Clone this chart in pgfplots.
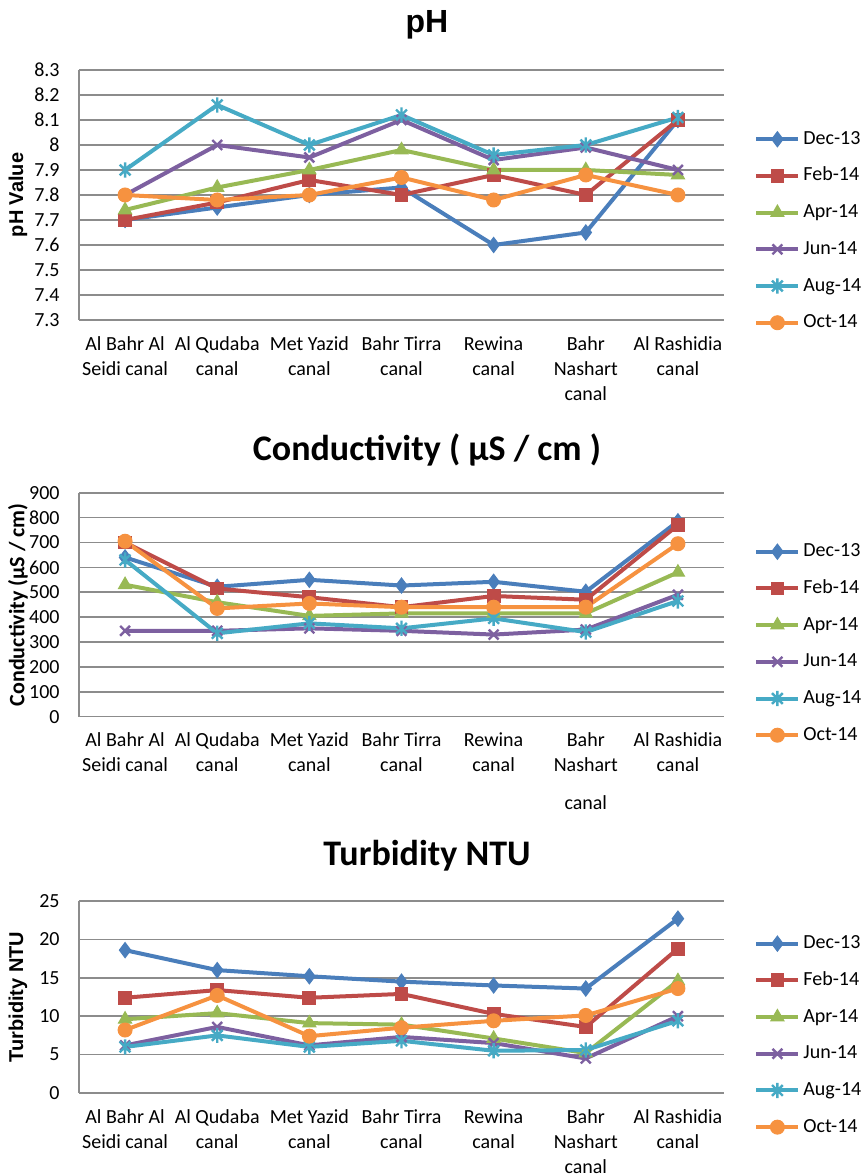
\documentclass[border=0pt]{standalone}
\usepackage{fontspec}
\setmainfont{Carlito}
\newfontfamily\arialfont{Liberation Sans}
\usepackage{pgfplots}
\pgfplotsset{compat=1.18}

\definecolor{cDec}{HTML}{4A7EBB}
\definecolor{cFeb}{HTML}{BE4B48}
\definecolor{cApr}{HTML}{98B954}
\definecolor{cJun}{HTML}{7D60A0}
\definecolor{cAug}{HTML}{46AAC5}
\definecolor{cOct}{HTML}{F69240}
\definecolor{gridc}{HTML}{8C8C8C}

\pgfdeclareplotmark{xstar}{%
  \pgfpathmoveto{\pgfqpoint{0pt}{\pgfplotmarksize}}%
  \pgfpathlineto{\pgfqpoint{0pt}{-\pgfplotmarksize}}%
  \pgfpathmoveto{\pgfqpoint{.7071\pgfplotmarksize}{.7071\pgfplotmarksize}}%
  \pgfpathlineto{\pgfqpoint{-.7071\pgfplotmarksize}{-.7071\pgfplotmarksize}}%
  \pgfpathmoveto{\pgfqpoint{-.7071\pgfplotmarksize}{.7071\pgfplotmarksize}}%
  \pgfpathlineto{\pgfqpoint{.7071\pgfplotmarksize}{-.7071\pgfplotmarksize}}%
  \pgfusepathqstroke}

\pgfplotsset{
  canal/.style={
    scale only axis, width=322.5pt,
    xmin=0.5, xmax=7.5, xtick={1,2,3,4,5,6,7},
    axis x line*=bottom, axis y line*=left,
    axis line style={draw=gridc, line width=0.8pt, -},
    ymajorgrids, grid style={draw=gridc, line width=0.8pt},
    major tick length=0pt,
    tick label style={font=\fontsize{10}{12.5}\selectfont},
    xticklabel style={align=center, anchor=north, inner ysep=0pt, yshift=-8pt},
    yticklabel style={anchor=east, inner xsep=0pt, xshift=-9.5pt},
    /pgf/number format/assume math mode=true,
    every axis y label/.style={at={(axis description cs:-0.0946,0.5)}, rotate=90, anchor=center},
    every axis title/.style={at={(axis description cs:0.5,1)}, anchor=center, xshift=12.75pt},
    legend image code/.code={\draw[mark repeat=2,mark phase=2] plot coordinates {(0pt,0pt) (10.5pt,0pt) (21pt,0pt)};},
    legend style={draw=none, fill=none, inner sep=0pt, xshift=15pt,
      font=\fontsize{10}{12}\selectfont,
      nodes={inner xsep=1.5pt, inner ysep=0pt, text height=7pt, text depth=2pt},
      row sep=9.35pt},
    legend cell align=left,
    clip=false,
  },
  sDec/.style={color=cDec, line width=2pt, mark=diamond*, mark size=3.8pt, mark options={fill=cDec, line width=0.5pt}},
  sFeb/.style={color=cFeb, line width=2pt, mark=square*, mark size=3.2pt, mark options={fill=cFeb, line width=0.5pt}},
  sApr/.style={color=cApr, line width=2pt, mark=triangle*, mark size=3.8pt, mark options={fill=cApr, line width=0.5pt}},
  sJun/.style={color=cJun, line width=2pt, mark=x, mark size=3.5pt, mark options={line width=1.2pt}},
  sAug/.style={color=cAug, line width=2pt, mark=xstar, mark size=3.8pt, mark options={line width=1.2pt}},
  sOct/.style={color=cOct, line width=2pt, mark=*, mark size=3.5pt, mark options={fill=cOct, line width=0.5pt}},
}

\begin{document}
\begin{tikzpicture}
\useasboundingbox (0,0) rectangle (430.5pt,588pt);

% ---------------- pH ----------------
\begin{axis}[canal,
  at={(39.5pt,428pt)}, anchor=south west, height=125pt,
  ymin=7.3, ymax=8.3,
  ytick={7.3,7.4,7.5,7.6,7.7,7.8,7.9,8,8.1,8.2,8.3},
  yticklabels={7.3,7.4,7.5,7.6,7.7,7.8,7.9,8,8.1,8.2,8.3},
  xticklabels={{Al Bahr Al\\Seidi canal},{Al Qudaba\\canal},{Met Yazid\\canal},{Bahr Tirra\\canal},{Rewina\\canal},{Bahr\\Nashart\\canal},{Al Rashidia\\canal}},
  title={\arialfont\bfseries\fontsize{16}{18}\selectfont pH},
  title style={yshift=22.5pt},
  ylabel={\arialfont\bfseries\fontsize{10}{12}\selectfont pH Value},
  legend style={at={(1,0.356)}, anchor=west},
]
\addplot[sDec] coordinates {(1,7.70) (2,7.75) (3,7.80) (4,7.83) (5,7.60) (6,7.65) (7,8.10)};
\addplot[sFeb] coordinates {(1,7.70) (2,7.77) (3,7.86) (4,7.80) (5,7.88) (6,7.80) (7,8.10)};
\addplot[sApr] coordinates {(1,7.74) (2,7.83) (3,7.90) (4,7.98) (5,7.90) (6,7.90) (7,7.88)};
\addplot[sJun] coordinates {(1,7.80) (2,8.00) (3,7.95) (4,8.10) (5,7.94) (6,7.99) (7,7.90)};
\addplot[sAug] coordinates {(1,7.90) (2,8.16) (3,8.00) (4,8.12) (5,7.96) (6,8.00) (7,8.11)};
\addplot[sOct] coordinates {(1,7.80) (2,7.78) (3,7.80) (4,7.87) (5,7.78) (6,7.88) (7,7.80)};
\legend{Dec-13,Feb-14,Apr-14,Jun-14,Aug-14,Oct-14}
\end{axis}

% ---------------- Conductivity ----------------
\begin{axis}[canal,
  at={(39.5pt,229.65pt)}, anchor=south west, height=112pt,
  ymin=0, ymax=900,
  ytick={0,100,200,300,400,500,600,700,800,900},
  xticklabels={{Al Bahr Al\\Seidi canal},{Al Qudaba\\canal},{Met Yazid\\canal},{Bahr Tirra\\canal},{Rewina\\canal},{Bahr\\Nashart\\[6.5pt]canal},{Al Rashidia\\canal}},
  title={\bfseries\fontsize{18}{20}\selectfont Conductivity ( µS / cm )},
  title style={yshift=21.5pt},
  ylabel={\bfseries\fontsize{11}{12}\selectfont Conductivity (µS / cm)},
  legend style={at={(1,0.327)}, anchor=west},
]
\addplot[sDec] coordinates {(1,640) (2,522) (3,550) (4,527) (5,542) (6,502) (7,785)};
\addplot[sFeb] coordinates {(1,700) (2,515) (3,480) (4,440) (5,485) (6,470) (7,770)};
\addplot[sApr] coordinates {(1,530) (2,460) (3,405) (4,415) (5,415) (6,415) (7,580)};
\addplot[sJun] coordinates {(1,345) (2,345) (3,355) (4,345) (5,330) (6,350) (7,490)};
\addplot[sAug] coordinates {(1,630) (2,335) (3,375) (4,355) (5,395) (6,340) (7,465)};
\addplot[sOct] coordinates {(1,705) (2,435) (3,455) (4,440) (5,440) (6,440) (7,695)};
\legend{Dec-13,Feb-14,Apr-14,Jun-14,Aug-14,Oct-14}
\end{axis}

% ---------------- Turbidity ----------------
\begin{axis}[canal,
  at={(39.5pt,41.5pt)}, anchor=south west, height=96pt,
  ymin=0, ymax=25,
  ytick={0,5,10,15,20,25},
  xticklabels={{Al Bahr Al\\Seidi canal},{Al Qudaba\\canal},{Met Yazid\\canal},{Bahr Tirra\\canal},{Rewina\\canal},{Bahr\\Nashart\\canal},{Al Rashidia\\canal}},
  title={\bfseries\fontsize{18}{20}\selectfont Turbidity NTU},
  title style={yshift=22.5pt},
  ylabel={\arialfont\bfseries\fontsize{10}{12}\selectfont Turbidity NTU},
  legend style={at={(1,0.30)}, anchor=west},
]
\addplot[sDec] coordinates {(1,18.6) (2,16.0) (3,15.2) (4,14.5) (5,14.0) (6,13.6) (7,22.7)};
\addplot[sFeb] coordinates {(1,12.4) (2,13.4) (3,12.4) (4,12.9) (5,10.3) (6,8.6) (7,18.8)};
\addplot[sApr] coordinates {(1,9.6) (2,10.4) (3,9.1) (4,8.9) (5,7.1) (6,5.2) (7,14.6)};
\addplot[sJun] coordinates {(1,6.2) (2,8.6) (3,6.2) (4,7.3) (5,6.5) (6,4.5) (7,10.0)};
\addplot[sAug] coordinates {(1,6.0) (2,7.5) (3,6.0) (4,6.8) (5,5.5) (6,5.6) (7,9.4)};
\addplot[sOct] coordinates {(1,8.2) (2,12.7) (3,7.4) (4,8.5) (5,9.4) (6,10.1) (7,13.6)};
\legend{Dec-13,Feb-14,Apr-14,Jun-14,Aug-14,Oct-14}
\end{axis}
\end{tikzpicture}
\end{document}
